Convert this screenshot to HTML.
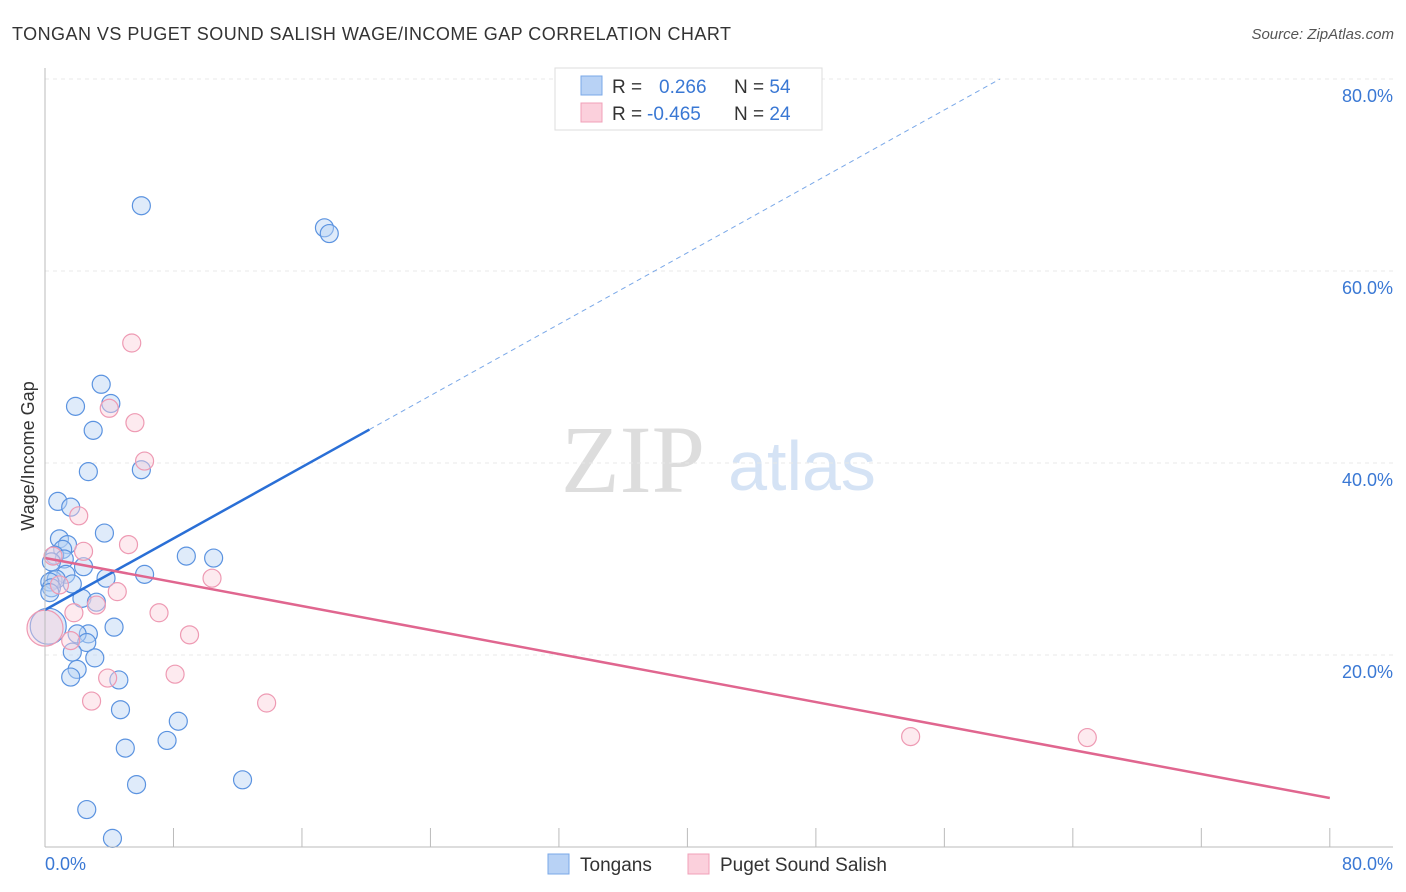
<!DOCTYPE html>
<html><head><meta charset="utf-8"><style>
body{margin:0;background:#fff;font-family:"Liberation Sans",sans-serif}
svg{display:block}
</style></head><body>
<svg width="1406" height="892" id="c">
<text x="12" y="40" font-size="18" fill="#333" textLength="719">TONGAN VS PUGET SOUND SALISH WAGE/INCOME GAP CORRELATION CHART</text>
<text x="1394" y="39" font-size="15" fill="#555" font-style="italic" text-anchor="end">Source: ZipAtlas.com</text>
<text x="633" y="492" font-size="96" fill="#ddd" font-family="Liberation Serif" text-anchor="middle">ZIP</text>
<text x="802" y="490" font-size="70" fill="#d5e3f5" text-anchor="middle">atlas</text>
<text transform="translate(34,456) rotate(-90)" font-size="18" fill="#333" text-anchor="middle">Wage/Income Gap</text>
<g id="grid"></g><g id="pts"></g><g id="lines"></g>
<line x1="45" y1="68" x2="45" y2="847" stroke="#bbb"/>
<line x1="45" y1="847" x2="1393" y2="847" stroke="#bbb"/>
<text x="45" y="870" font-size="18" fill="#3a78d4">0.0%</text>
<text x="1393" y="870" font-size="18" fill="#3a78d4" text-anchor="end">80.0%</text>
<g>
<rect x="555" y="68" width="267" height="62" fill="#fff" stroke="#ddd"/>
<rect x="581" y="76" width="21" height="19" fill="#b8d2f5" stroke="#7aa8e8"/>
<rect x="581" y="103" width="21" height="19" fill="#fbd0dc" stroke="#f0a0b8"/>
<text x="612" y="93" font-size="19" fill="#333">R = <tspan fill="#3a78d4" x="659">0.266</tspan><tspan x="734" fill="#333">N = </tspan><tspan fill="#3a78d4">54</tspan></text>
<text x="612" y="120" font-size="19" fill="#333">R = <tspan fill="#3a78d4" x="647">-0.465</tspan><tspan x="734" fill="#333">N = </tspan><tspan fill="#3a78d4">24</tspan></text>
</g>
<g>
<rect x="548" y="854" width="21" height="20" fill="#b8d2f5" stroke="#7aa8e8"/>
<text x="580" y="871" font-size="19" fill="#333">Tongans</text>
<rect x="688" y="854" width="21" height="20" fill="#fbd0dc" stroke="#f0a0b8"/>
<text x="720" y="871" font-size="19" fill="#333">Puget Sound Salish</text>
</g>
</svg>
<script>
const yTicks=[20,40,60,80];
const xTickCount=10;
const blueX=[6.0,17.4,17.7,3.5,1.9,4.1,3.0,2.7,6.0,0.8,1.6,3.7,0.9,1.4,1.1,0.6,1.2,8.8,10.5,0.4,2.4,1.3,3.8,6.2,0.5,0.7,0.3,1.7,0.4,2.3,3.2,0.3,4.3,2.7,2.0,2.6,1.7,3.1,2.0,1.6,4.6,4.7,8.3,7.6,5.0,12.3,5.7,2.6,4.2,0.2];
const blueY=[66.8,64.5,63.9,48.2,45.9,46.2,43.4,39.1,39.3,36.0,35.4,32.7,32.1,31.5,31.0,30.4,30.0,30.3,30.1,29.7,29.2,28.4,28.0,28.4,27.8,27.9,27.6,27.4,27.0,25.9,25.5,26.5,22.9,22.2,22.2,21.3,20.3,19.7,18.5,17.7,17.4,14.3,13.1,11.1,10.3,7.0,6.5,3.9,0.9,23.0];
const pinkX=[5.4,4.0,5.6,6.2,2.1,2.4,5.2,0.5,0.9,4.5,10.4,3.2,1.8,7.1,9.0,1.6,8.1,3.9,2.9,13.8,53.9,64.9,0.0];
const pinkY=[52.5,45.7,44.2,40.2,34.5,30.8,31.5,30.3,27.3,26.6,28.0,25.2,24.4,24.4,22.1,21.5,18.0,17.6,15.2,15.0,11.5,11.4,22.8];
const blueFit=[24.7,0.93];
const pinkFit=[30.1,-0.3125];
const X=v=>45+v*16.06, Y=v=>847-v*9.6;
const NS='http://www.w3.org/2000/svg';
function mk(t,a,p){const e=document.createElementNS(NS,t);for(const k in a)e.setAttribute(k,a[k]);p.appendChild(e);return e;}
const g=document.getElementById('grid');
yTicks.forEach(v=>{
 const l=mk('line',{x1:45,x2:1393,y1:Y(v),y2:Y(v),stroke:'#e8e8e8','stroke-dasharray':'4,4'},g);
 
 
 const t=mk('text',{x:1393,y:Y(v)+23,'font-size':18,fill:'#3a78d4','text-anchor':'end'},g);
 t.textContent=v.toFixed(1)+'%';
 
 
});
for(let i=1;i<=xTickCount;i++){
 const l=mk('line',{x1:X(i*8),x2:X(i*8),y1:828,y2:847,stroke:'#bbb'},g);
 
 
}
const p=document.getElementById('pts');
function dots(xs,ys,fill,stroke,name){xs.forEach((x,i)=>{
 const big=(i===xs.length-1);
 const c=mk('circle',{cx:X(x),cy:Y(ys[i]),r:big?18:9,fill:fill,'fill-opacity':0.45,stroke:stroke,'stroke-width':1.2},p);
 
 
});}
dots(blueX,blueY,'#b8d2f5','#5b93e0','tongan-point');
dots(pinkX,pinkY,'#fbd0dc','#ee9ab3','salish-point');
const L=document.getElementById('lines');
const b1=mk('line',{x1:X(0),y1:Y(blueFit[0]),x2:X(20.2),y2:Y(blueFit[0]+blueFit[1]*20.2),stroke:'#2a6fd6','stroke-width':2.5},L);


const xe=(80-blueFit[0])/blueFit[1];
const b2=mk('line',{x1:X(20.2),y1:Y(blueFit[0]+blueFit[1]*20.2),x2:X(xe),y2:Y(80),stroke:'#7aa8e8','stroke-width':1,'stroke-dasharray':'5,4'},L);


const p1=mk('line',{x1:X(0),y1:Y(pinkFit[0]),x2:X(80),y2:Y(pinkFit[0]+pinkFit[1]*80),stroke:'#e0668f','stroke-width':2.5},L);


</script>
</body></html>
